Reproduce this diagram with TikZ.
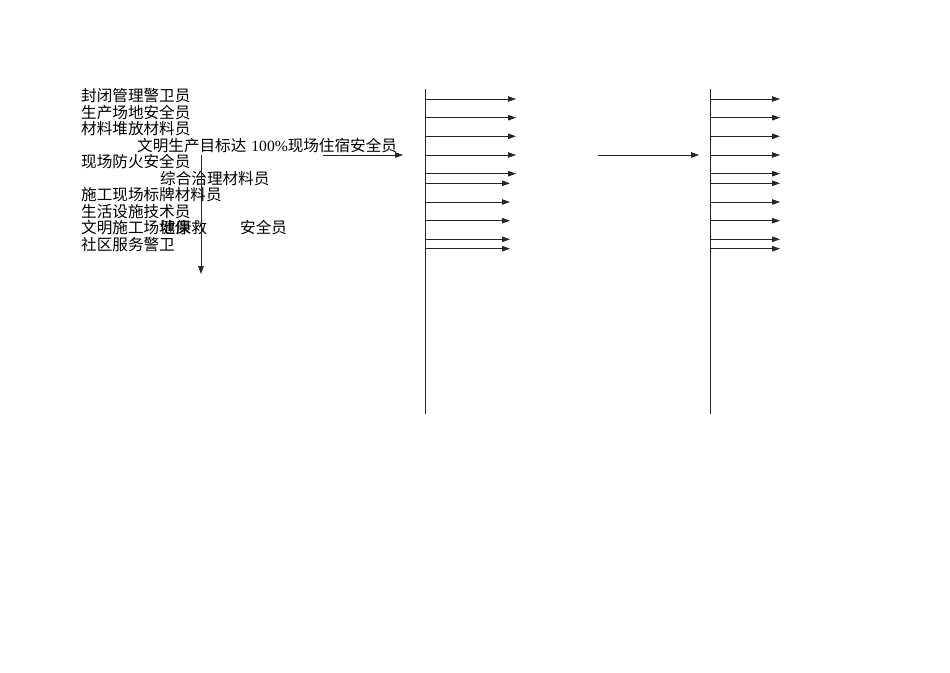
\documentclass[tikz,border=0pt]{standalone}
\usepackage{fontspec}
\setmainfont{Liberation Serif}
\newfontfamily\cjk{Noto Sans CJK SC}
\usetikzlibrary{arrows.meta}
\begin{document}
\begin{tikzpicture}[x=1pt,y=-1pt,
  lbl/.style={anchor=west,inner sep=0pt,font=\fontsize{15.6pt}{16.5pt}\selectfont\cjk,text height=0.88em,text depth=0.12em},
  conn/.style={draw=black!85,line width=0.8pt,-{Triangle[length=8pt,width=5.5pt]}},
  bar/.style={draw=black!85,line width=0.8pt}]
\useasboundingbox (0,0) rectangle (950,672);
% texts
\node[lbl] (t1) at (81,98) {封闭管理警卫员};
\node[lbl] (t2) at (81,114.5) {生产场地安全员};
\node[lbl] (t3) at (81,131) {材料堆放材料员};
\node[lbl] (t4) at (137,147.5) {文明生产目标达\hspace{5pt}{\rmfamily 100\%}现场住宿安全员};
\node[lbl] (t5) at (81,164) {现场防火安全员};
\node[lbl] (t6) at (160,180.5) {综合治理材料员};
\node[lbl] (t7) at (81,197) {施工现场标牌材料员};
\node[lbl] (t8) at (81,213.5) {生活设施技术员};
\node[lbl] (t9) at (81,230) {文明施工场地保};
\node[lbl] (t9b) at (160,230) {健康救};
\node[lbl] (t9c) at (240,230) {安全员};
\node[lbl] (t10) at (81,246.5) {社区服务警卫};
% left connectors
\coordinate (vs) at (201,155);
\coordinate (ve) at (201,274);
\draw[conn] (vs) -- (ve);
\coordinate (hs) at (323,155);
\coordinate (he) at (403,155);
\draw[conn] (hs) -- (he);
% vertical bars
\coordinate (L1) at (425,89); \coordinate (L2) at (425,414);
\coordinate (R1) at (710,89); \coordinate (R2) at (710,414);
\draw[bar] (L1) -- (L2);
\draw[bar] (R1) -- (R2);
% middle arrow
\coordinate (ms) at (598,155); \coordinate (me) at (699,155);
\draw[conn] (ms) -- (me);
% horizontal arrows
\foreach \y/\e [count=\i] in {99/516,117.7/516,136.3/516,155/516,173.7/516,183.3/510,202/510,220.7/510,239.3/510,248.7/510}{
  \coordinate (la\i) at (425,\y); \coordinate (lb\i) at (\e,\y);
  \draw[conn] (la\i) -- (lb\i);
  \coordinate (ra\i) at (710,\y); \coordinate (rb\i) at (780,\y);
  \draw[conn] (ra\i) -- (rb\i);
}
\end{tikzpicture}
\end{document}
